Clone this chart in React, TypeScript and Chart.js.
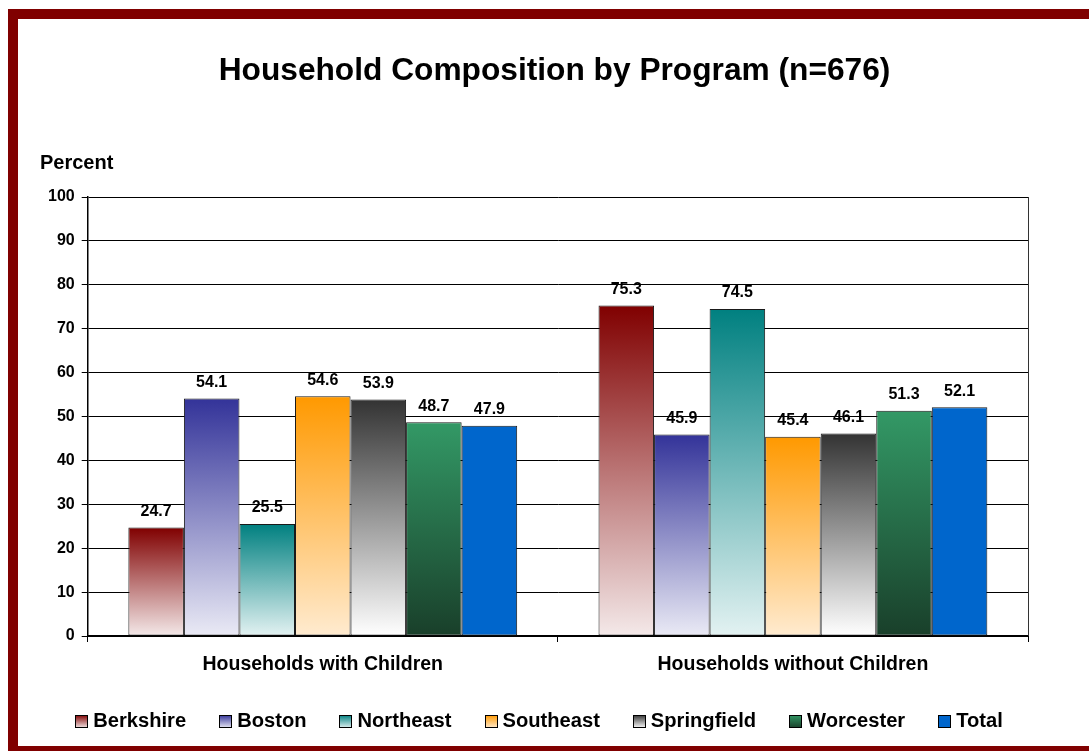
import React, { useEffect, useRef } from "react";
import { Chart, registerables } from "chart.js";

Chart.register(...registerables);

const FONT = "'Liberation Sans', Arial, Helvetica, sans-serif";

const titleText = "Household Composition by Program (n=676)";
const yAxisTitle = "Percent";
const categories = ["Households with Children", "Households without Children"];
const programs = ["Berkshire", "Boston", "Northeast", "Southeast", "Springfield", "Worcester", "Total"];

const berkshire = [24.7, 75.3];
const boston = [54.1, 45.9];
const northeast = [25.5, 74.5];
const southeast = [54.6, 45.4];
const springfield = [53.9, 46.1];
const worcester = [48.7, 51.3];
const total = [47.9, 52.1];

const yMin = 0;
const yMax = 100;
const yStep = 10;

const seriesValues = [berkshire, boston, northeast, southeast, springfield, worcester, total];
const topColors = ["#800000", "#333399", "#008080", "#FF9900", "#333333", "#339966", "#0066CC"];
const bottomColors = ["#F4E9E9", "#EAEAF5", "#E3F2F2", "#FFEBD0", "#FFFFFF", "#193F2A", "#0066CC"];

const CANVAS_W = 1071;
const CANVAS_H = 727;

function makeGradientFill(i: number) {
  return (ctx: any) => {
    const chart = ctx.chart;
    const { chartArea, scales } = chart;
    if (!chartArea || !scales || !scales.y || ctx.type !== "data") return topColors[i];
    const v = ctx.raw as number;
    const yTop = scales.y.getPixelForValue(v);
    const yBot = scales.y.getPixelForValue(0);
    if (!isFinite(yTop) || !isFinite(yBot) || yTop === yBot) return topColors[i];
    const g = chart.ctx.createLinearGradient(0, yTop, 0, yBot);
    g.addColorStop(0, topColors[i]);
    g.addColorStop(1, bottomColors[i]);
    return g;
  };
}

const decorPlugin = {
  id: "decor",
  afterDraw(chart: any) {
    const { ctx, chartArea } = chart;
    ctx.save();

    // right border of plot area
    ctx.strokeStyle = "#333";
    ctx.lineWidth = 1;
    ctx.beginPath();
    ctx.moveTo(Math.round(chartArea.right) + 0.5, chartArea.top);
    ctx.lineTo(Math.round(chartArea.right) + 0.5, chartArea.bottom);
    ctx.stroke();

    // title
    ctx.fillStyle = "#000";
    ctx.textAlign = "center";
    ctx.textBaseline = "middle";
    ctx.font = `bold 31.7px ${FONT}`;
    ctx.fillText(titleText, 536.5, 52.5);

    // y axis title
    ctx.textAlign = "left";
    ctx.font = `bold 20px ${FONT}`;
    ctx.fillText(yAxisTitle, 22, 144);

    // data labels
    ctx.textAlign = "center";
    ctx.font = `bold 16px ${FONT}`;
    chart.data.datasets.forEach((ds: any, di: number) => {
      const meta = chart.getDatasetMeta(di);
      meta.data.forEach((el: any, idx: number) => {
        const v = ds.data[idx];
        ctx.fillText(v.toFixed(1), el.x, el.y - 16);
      });
    });

    // legend
    ctx.font = `bold 20.15px ${FONT}`;
    const box = 13;
    const gapBoxText = 5;
    const gapItems = 33;
    const widths = programs.map((p) => ctx.measureText(p).width);
    const totalW = widths.reduce((a, w) => a + box + gapBoxText + w, 0) + gapItems * (programs.length - 1);
    let x = 521 - totalW / 2;
    const cy = 702;
    programs.forEach((p, i) => {
      const bx = Math.round(x);
      const by = Math.round(cy - box / 2);
      const g = ctx.createLinearGradient(0, by, 0, by + box);
      g.addColorStop(0, topColors[i]);
      g.addColorStop(1, bottomColors[i]);
      ctx.fillStyle = g;
      ctx.fillRect(bx, by, box, box);
      ctx.strokeStyle = "#000";
      ctx.lineWidth = 1;
      ctx.strokeRect(bx + 0.5, by + 0.5, box - 1, box - 1);
      ctx.fillStyle = "#000";
      ctx.textAlign = "left";
      ctx.textBaseline = "middle";
      ctx.fillText(p, x + box + gapBoxText, cy);
      x += box + gapBoxText + widths[i] + gapItems;
    });

    ctx.restore();
  },
};

export default function App() {
  const canvasRef = useRef<HTMLCanvasElement | null>(null);

  useEffect(() => {
    if (!canvasRef.current) return;
    const chart = new Chart(canvasRef.current, {
      type: "bar",
      data: {
        labels: categories,
        datasets: programs.map((name, i) => ({
          label: name,
          data: seriesValues[i],
          backgroundColor: makeGradientFill(i),
          borderColor: "#1a1a1a",
          borderWidth: 1,
          borderSkipped: false,
          categoryPercentage: 0.827,
          barPercentage: 1.0,
        })),
      },
      options: {
        animation: false,
        responsive: false,
        devicePixelRatio: 1,
        layout: { padding: { top: 178, left: 23, right: 61, bottom: 58.6 } },
        plugins: {
          legend: { display: false },
          title: { display: false },
          tooltip: { enabled: false },
        },
        scales: {
          x: {
            offset: true,
            grid: { display: true, drawOnChartArea: false, drawTicks: true, tickLength: 6, color: "#000", offset: true },
            border: { display: true, color: "#000", width: 2 },
            ticks: { color: "#000", padding: 11, font: { family: FONT, size: 19.5, weight: "bold" } },
          },
          y: {
            min: yMin,
            max: yMax,
            grid: { color: "#000", lineWidth: 1, tickLength: 6, drawTicks: true },
            border: { display: true, color: "#000", width: 1.5 },
            ticks: { stepSize: yStep, color: "#000", padding: 7, font: { family: FONT, size: 16, weight: "bold" } },
          },
        },
      },
      plugins: [decorPlugin],
    });
    return () => chart.destroy();
  }, []);

  return (
    <div
      style={{
        position: "fixed",
        left: 8,
        top: 9,
        width: CANVAS_W,
        height: CANVAS_H,
        border: "10px solid #800000",
        background: "#fff",
      }}
    >
      <canvas ref={canvasRef} width={CANVAS_W} height={CANVAS_H} style={{ display: "block", width: CANVAS_W, height: CANVAS_H }} />
    </div>
  );
}
